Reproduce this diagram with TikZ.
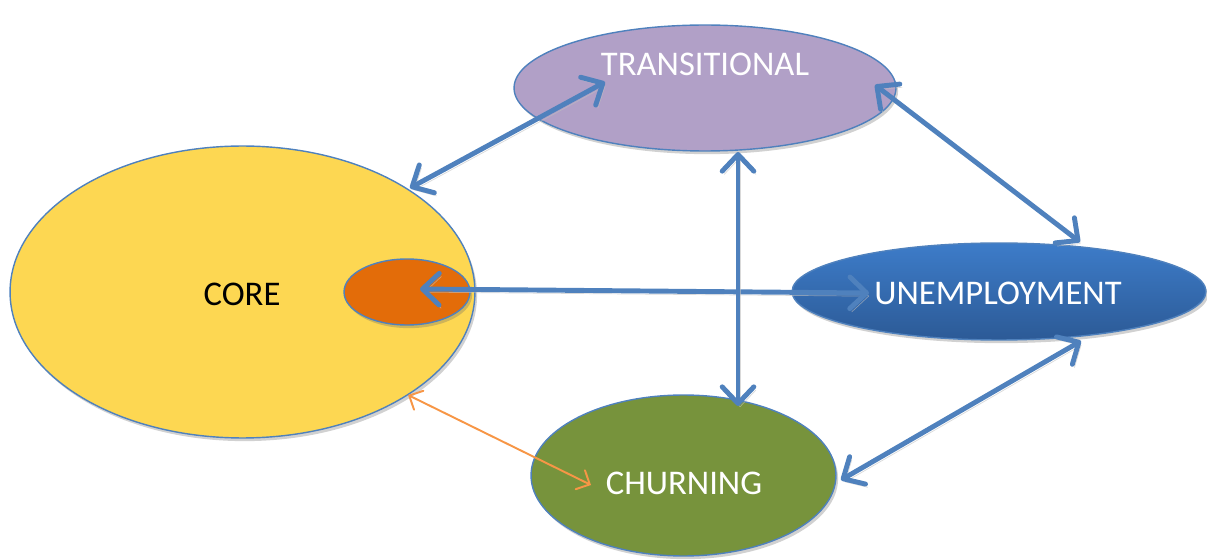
\documentclass[tikz,border=0pt]{standalone}
\usepackage{fontspec}
\setmainfont{Carlito}
\usetikzlibrary{arrows.meta,shapes.geometric,shadows}
\definecolor{edgeblue}{HTML}{4F81BD}
\definecolor{coreyellow}{HTML}{FDD752}
\definecolor{transpurple}{HTML}{B1A0C7}
\definecolor{unemptop}{HTML}{3D7CC9}
\definecolor{unempbot}{HTML}{2C5A96}
\definecolor{churngreen}{HTML}{77933C}
\definecolor{coreorange}{HTML}{E36C09}
\definecolor{thinorange}{HTML}{F79646}
\tikzset{
  blob/.style={ellipse, draw=edgeblue, line width=0.8pt, inner sep=0pt,
    drop shadow={opacity=0.3, shadow xshift=1.2pt, shadow yshift=-1.8pt, fill=black!60}},
  lbl/.style={font=\fontsize{19.7}{23}\selectfont},
  bigarrow/.style={draw=edgeblue, line width=2.8pt,
    {Straight Barb[length=9.5pt,width=18pt,line cap=round,line join=round]}-{Straight Barb[length=9.5pt,width=18pt,line cap=round,line join=round]},
    preaction={draw=black!25, opacity=0.6, transform canvas={xshift=1.2pt,yshift=-1.8pt}}},
  thinarrow/.style={draw=thinorange, line width=1.1pt,
    {Straight Barb[length=6pt,width=12pt,line cap=round]}-{Straight Barb[length=6pt,width=12pt,line cap=round]}}
}
\begin{document}
\begin{tikzpicture}[x=0.02cm,y=-0.02cm]
\useasboundingbox (0,0) rectangle (1207,560);
% shapes
\node[blob, fill=coreyellow, minimum width=9.3cm, minimum height=5.84cm] (core) at (242.5,292) {};
\node[lbl, text=black] (corelbl) at (242,294) {CORE};
\node[blob, fill=coreorange, minimum width=2.52cm, minimum height=1.32cm] (inner) at (407,292) {};
\node[blob, fill=transpurple, minimum width=7.64cm, minimum height=2.52cm] (trans) at (705,88) {};
\node[lbl, text=white] (translbl) at (705,64) {TRANSITIONAL};
\node[blob, top color=unemptop, bottom color=unempbot, minimum width=8.28cm, minimum height=1.94cm] (unemp) at (999,291.5) {};
\node[lbl, text=white] (unemplbl) at (998,293) {UNEMPLOYMENT};
\node[blob, fill=churngreen, minimum width=6.1cm, minimum height=3.22cm] (churn) at (683.5,475.5) {};
\node[lbl, text=white] (churnlbl) at (684,483) {CHURNING};
% connector end points
\coordinate (a1) at (410,188);
\coordinate (a2) at (605,82);
\coordinate (b1) at (875,85);
\coordinate (b2) at (1080,242);
\coordinate (c1) at (420,289);
\coordinate (c2) at (869,293);
\coordinate (d1) at (738,152);
\coordinate (d2) at (738,406);
\coordinate (e1) at (1081,341);
\coordinate (e2) at (841,480);
\coordinate (f1) at (408,395);
\coordinate (f2) at (591,485);
% connectors
\draw[bigarrow] (a1) -- (a2);
\draw[bigarrow] (b1) -- (b2);
\draw[bigarrow] (c1) -- (c2);
\draw[bigarrow] (d1) -- (d2);
\draw[bigarrow] (e1) -- (e2);
\draw[thinarrow] (f1) -- (f2);
\end{tikzpicture}
\end{document}
